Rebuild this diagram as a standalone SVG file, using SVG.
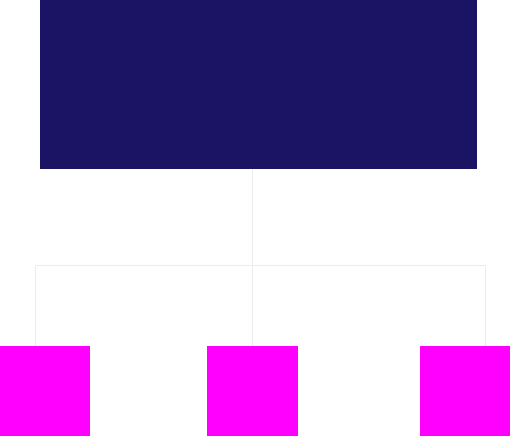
<svg xmlns="http://www.w3.org/2000/svg" width="510" height="436" viewBox="0 0 510 436">
<style>
.conn{stroke:#ececec;stroke-width:1;fill:none}
.leaf{fill:#ff00ff}
</style>
<rect width="510" height="436" fill="#ffffff"/>
<g id="connectors">
<path class="conn" d="M252.5 169 V265.5"/>
<path class="conn" d="M35.5 346 V265.5 H485.5 V346"/>
<path class="conn" d="M252.5 265.5 V346"/>
</g>
<g id="root"><rect x="40" y="0" width="437" height="169" fill="#1b1464"/></g>
<g id="leaf1"><rect class="leaf" x="0" y="346" width="90" height="90"/></g>
<g id="leaf2"><rect class="leaf" x="207" y="346" width="91" height="90"/></g>
<g id="leaf3"><rect class="leaf" x="420" y="346" width="90" height="90"/></g>
</svg>
